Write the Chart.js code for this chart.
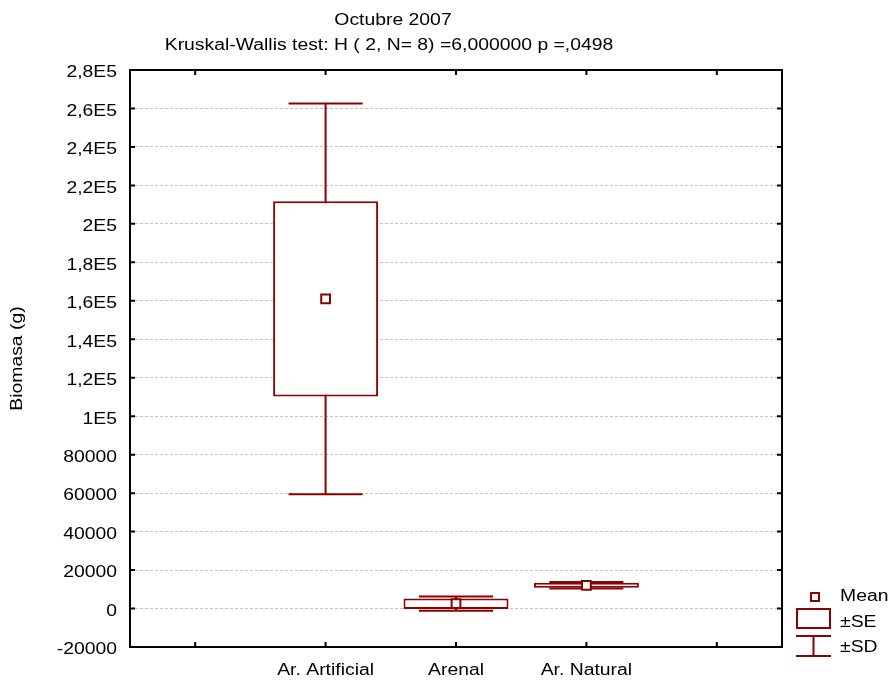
<!DOCTYPE html>
<html><head><meta charset="utf-8">
<script src="https://cdn.jsdelivr.net/npm/chart.js@4"></script>
<style>html,body{margin:0;padding:0;background:#fff;}</style>
</head><body>
<canvas id="c" width="891" height="684" style="display:block;width:891px;height:684px"></canvas>
<script>
// ---- data ----
const categories = ['', 'Ar. Artificial', 'Arenal', 'Ar. Natural', ''];
const meanValues = [null, 161000, 2500, 12100, null];
const seValues   = [null, 50800, 2750, 1250, null];
const sdValues   = [null, 101600, 3700, 1700, null];
const yMin = -20000, yMax = 280000, yStep = 20000;
const titleLines = ['Octubre 2007', 'Kruskal-Wallis test: H ( 2, N= 8) =6,000000 p =,0498'];
const yAxisTitle = 'Biomasa (g)';
const legendLabels = ['Mean', '±SE', '±SD'];

// ---- derived ----
const seRanges = meanValues.map((m, i) => m == null ? null : [m - seValues[i], m + seValues[i]]);

const RED = '#8b0000';
const FONT = "'Liberation Sans', Arial, sans-serif";
const TEXT_STRETCH = 1.21;
Chart.defaults.font.family = FONT;
Chart.defaults.font.size = 16;
Chart.defaults.color = '#000';

function fmtTick(v) {
  if (Math.abs(v) >= 100000) {
    const m = Math.round(v / 1e4) / 10;
    return String(m).replace('.', ',') + 'E5';
  }
  return String(v);
}

function drawText(ctx, text, x, y, align, rot) {
  ctx.save();
  ctx.translate(x, y);
  if (rot) ctx.rotate(rot);
  ctx.scale(TEXT_STRETCH, 1);
  ctx.textAlign = align;
  ctx.textBaseline = 'alphabetic';
  ctx.fillText(text, 0, 0);
  ctx.restore();
}

const decor = {
  id: 'decor',
  beforeDatasetsDraw(chart) {
    const ctx = chart.ctx, xs = chart.scales.x, ys = chart.scales.y;
    const slot = xs.getPixelForValue(1) - xs.getPixelForValue(0);
    const capHalf = slot * 0.284;
    ctx.save();
    ctx.strokeStyle = RED; ctx.lineWidth = 2;
    meanValues.forEach((m, i) => {
      if (m == null) return;
      const cx = xs.getPixelForValue(i);
      const yt = ys.getPixelForValue(m + sdValues[i]);
      const yb = ys.getPixelForValue(m - sdValues[i]);
      ctx.beginPath();
      ctx.moveTo(cx, yt); ctx.lineTo(cx, yb);
      ctx.moveTo(cx - capHalf, yt); ctx.lineTo(cx + capHalf, yt);
      ctx.moveTo(cx - capHalf, yb); ctx.lineTo(cx + capHalf, yb);
      ctx.stroke();
    });
    ctx.restore();
  },
  afterDraw(chart) {
    const ctx = chart.ctx, a = chart.chartArea, xs = chart.scales.x, ys = chart.scales.y;
    ctx.save();
    // frame
    ctx.strokeStyle = '#000'; ctx.lineWidth = 2;
    ctx.strokeRect(a.left, a.top, a.right - a.left, a.bottom - a.top);
    // inward ticks
    ctx.beginPath();
    ys.ticks.forEach(t => {
      const py = ys.getPixelForValue(t.value);
      ctx.moveTo(a.left, py); ctx.lineTo(a.left + 5, py);
      ctx.moveTo(a.right, py); ctx.lineTo(a.right - 5, py);
    });
    categories.forEach((c, i) => {
      const px = xs.getPixelForValue(i);
      ctx.moveTo(px, a.bottom); ctx.lineTo(px, a.bottom - 5);
      ctx.moveTo(px, a.top); ctx.lineTo(px, a.top + 5);
    });
    ctx.stroke();
    // axis tick labels
    ctx.fillStyle = '#000';
    ctx.font = '16px ' + FONT;
    ys.ticks.forEach(t => {
      drawText(ctx, fmtTick(t.value), a.left - 13, ys.getPixelForValue(t.value) + 7.3, 'right');
    });
    categories.forEach((c, i) => {
      if (c) drawText(ctx, c, xs.getPixelForValue(i), a.bottom + 28, 'center');
    });
    // y axis title
    drawText(ctx, yAxisTitle, 22, (a.top + a.bottom) / 2, 'center', -Math.PI / 2);
    // titles
    drawText(ctx, titleLines[0], 393, 25, 'center');
    drawText(ctx, titleLines[1], 389, 50, 'center');
    // legend
    ctx.strokeStyle = RED; ctx.lineWidth = 2;
    ctx.fillStyle = '#fff';
    ctx.fillRect(811, 593, 8, 8);
    ctx.strokeRect(811, 593, 8, 8);
    ctx.strokeRect(797, 609, 33, 19);
    ctx.beginPath();
    ctx.moveTo(796, 636); ctx.lineTo(831, 636);
    ctx.moveTo(813.5, 636); ctx.lineTo(813.5, 656);
    ctx.moveTo(796, 656); ctx.lineTo(831, 656);
    ctx.stroke();
    ctx.fillStyle = '#000';
    drawText(ctx, legendLabels[0], 840, 601, 'left');
    drawText(ctx, legendLabels[1], 840, 627, 'left');
    drawText(ctx, legendLabels[2], 840, 652, 'left');
    ctx.restore();
  }
};

new Chart(document.getElementById('c'), {
  data: {
    labels: categories,
    datasets: [
      {
        type: 'line', label: 'Mean', data: meanValues, showLine: false, order: 0,
        pointStyle: 'rect', pointRadius: 6.2, pointHoverRadius: 6.2,
        pointBorderWidth: 2, pointBorderColor: RED, pointBackgroundColor: '#fff'
      },
      {
        type: 'bar', label: '±SE', data: seRanges, order: 1,
        backgroundColor: '#fff', borderColor: RED, borderWidth: 2, borderSkipped: false,
        categoryPercentage: 1, barPercentage: 0.805
      }
    ]
  },
  options: {
    responsive: false, animation: false, devicePixelRatio: 1,
    layout: { padding: { top: 70, right: 109, bottom: 0, left: 0 } },
    plugins: { legend: { display: false }, title: { display: false }, tooltip: { enabled: false } },
    scales: {
      x: {
        type: 'category', offset: true,
        grid: { display: false, drawTicks: false }, border: { display: false },
        ticks: { display: false, autoSkip: false },
        afterFit(s) { s.height = 37; }
      },
      y: {
        type: 'linear', min: yMin, max: yMax,
        grid: { color: '#c4c4c4', lineWidth: 1, drawTicks: false },
        border: { display: false, dash: [3, 2] },
        ticks: { display: false, stepSize: yStep },
        afterFit(s) { s.width = 130; }
      }
    }
  },
  plugins: [decor]
});
</script>
</body></html>
